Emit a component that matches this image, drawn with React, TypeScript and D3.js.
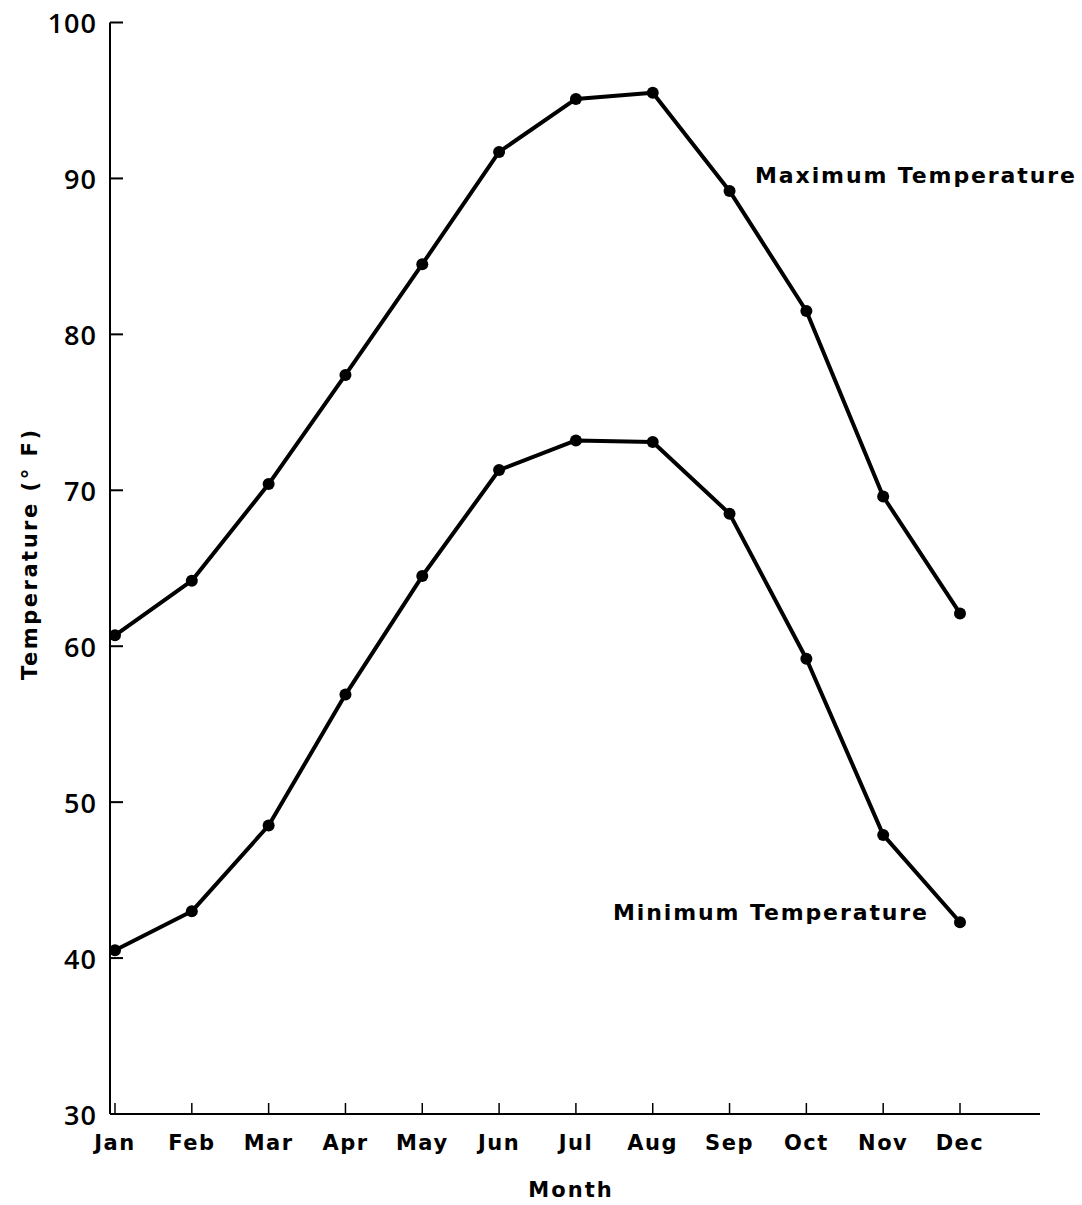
import React from "react";
import * as d3 from "d3";

// Monthly mean temperatures (°F)
const months = ["Jan", "Feb", "Mar", "Apr", "May", "Jun", "Jul", "Aug", "Sep", "Oct", "Nov", "Dec"];
const maxTemp = [60.7, 64.2, 70.4, 77.4, 84.5, 91.7, 95.1, 95.5, 89.2, 81.5, 69.6, 62.1];
const minTemp = [40.5, 43.0, 48.5, 56.9, 64.5, 71.3, 73.2, 73.1, 68.5, 59.2, 47.9, 42.3];
const yTicks = [30, 40, 50, 60, 70, 80, 90, 100];

const W = 1082;
const H = 1205;
const axisLeft = 110;
const axisRight = 1040;
const NUM_FONT = "'Open Sans', 'DejaVu Sans', sans-serif";
const LBL_FONT = "'DejaVu Sans', 'Open Sans', sans-serif";

export default function App() {
  const x = d3.scalePoint<string>().domain(months).range([115, 960]);
  const y = d3.scaleLinear().domain([30, 100]).range([1114, 22.5]);

  const line = d3
    .line<number>()
    .x((_, i) => x(months[i]) as number)
    .y((d) => y(d));

  const series = [maxTemp, minTemp];
  const y0 = y(30);

  return (
    <svg
      width={W}
      height={H}
      viewBox={`0 0 ${W} ${H}`}
      style={{ position: "absolute", left: 0, top: 0, background: "#fff" }}
    >
      <rect x={0} y={0} width={W} height={H} fill="#fff" />

      {/* y axis */}
      <line x1={axisLeft} x2={axisLeft} y1={y(100)} y2={y0} stroke="#000" strokeWidth={2} />
      {yTicks.map((t) => (
        <g key={t}>
          {t !== 30 && (
            <line x1={axisLeft} x2={axisLeft + 13} y1={y(t)} y2={y(t)} stroke="#000" strokeWidth={2} />
          )}
          <text
            x={97}
            y={y(t)}
            textAnchor="end"
            dominantBaseline="central"
            fontFamily={NUM_FONT}
            fontWeight={600}
            fontSize={27}
            letterSpacing={1}
            fill="#000"
          >
            {t}
          </text>
        </g>
      ))}

      {/* x axis */}
      <line x1={axisLeft} x2={axisRight} y1={y0} y2={y0} stroke="#000" strokeWidth={2} />
      {months.map((m) => (
        <g key={m}>
          <line
            x1={x(m) as number}
            x2={x(m) as number}
            y1={y0}
            y2={y0 - 11}
            stroke="#000"
            strokeWidth={1.5}
          />
          <text
            x={x(m) as number}
            y={1143}
            textAnchor="middle"
            dominantBaseline="central"
            fontFamily={LBL_FONT}
            fontWeight={700}
            fontSize={21}
            letterSpacing={1.5}
            fill="#000"
          >
            {m}
          </text>
        </g>
      ))}

      {/* axis titles */}
      <text
        x={571}
        y={1190}
        textAnchor="middle"
        dominantBaseline="central"
        fontFamily={LBL_FONT}
        fontWeight={700}
        fontSize={21}
        letterSpacing={2}
        fill="#000"
      >
        Month
      </text>
      <text
        transform={`translate(30, 555) rotate(-90)`}
        textAnchor="middle"
        dominantBaseline="central"
        fontFamily={LBL_FONT}
        fontWeight={700}
        fontSize={21}
        textLength={250}
        lengthAdjust="spacing"
        fill="#000"
      >
        Temperature (° F)
      </text>

      {/* series */}
      {series.map((s, si) => (
        <g key={si}>
          <path d={line(s) ?? ""} fill="none" stroke="#000" strokeWidth={4} strokeLinejoin="round" />
          {s.map((v, i) => (
            <circle key={i} cx={x(months[i]) as number} cy={y(v)} r={6} fill="#000" />
          ))}
        </g>
      ))}

      {/* series labels */}
      <text
        x={755}
        y={175}
        dominantBaseline="central"
        fontFamily={LBL_FONT}
        fontWeight={700}
        fontSize={22}
        textLength={320}
        lengthAdjust="spacing"
        fill="#000"
      >
        Maximum  Temperature
      </text>
      <text
        x={613}
        y={912}
        dominantBaseline="central"
        fontFamily={LBL_FONT}
        fontWeight={700}
        fontSize={22}
        textLength={314}
        lengthAdjust="spacing"
        fill="#000"
      >
        Minimum  Temperature
      </text>
    </svg>
  );
}
